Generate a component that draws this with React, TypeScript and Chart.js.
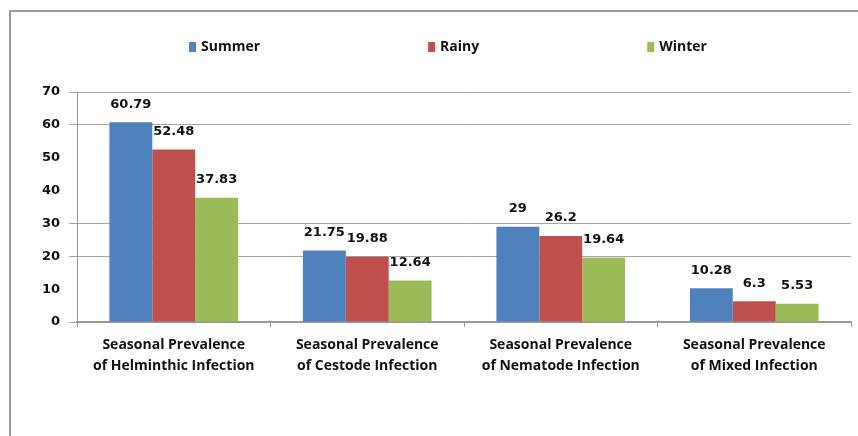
import React, { useEffect, useRef } from "react";
import { Chart, registerables } from "chart.js";

Chart.register(...registerables);

const categories: string[][] = [
  ["Seasonal Prevalence", "of Helminthic Infection"],
  ["Seasonal Prevalence", "of Cestode Infection"],
  ["Seasonal Prevalence", "of Nematode Infection"],
  ["Seasonal Prevalence", "of Mixed Infection"],
];
const seriesNames = ["Summer", "Rainy", "Winter"];
const summer = [60.79, 21.75, 29, 10.28];
const rainy = [52.48, 19.88, 26.2, 6.3];
const winter = [37.83, 12.64, 19.64, 5.53];
const seriesColors = ["#4F81BD", "#C0504D", "#9BBB59"];
const yMin = 0;
const yMax = 70;
const yStep = 10;
const visibleGridValues = [0, 20, 30, 60, 70];

const numFont = "bold 13px 'DejaVu Sans'";

const valueLabels = {
  id: "valueLabels",
  afterDatasetsDraw(chart: any) {
    const ctx = chart.ctx;
    ctx.save();
    ctx.font = numFont;
    ctx.fillStyle = "#111";
    ctx.textAlign = "center";
    ctx.textBaseline = "middle";
    chart.data.datasets.forEach((ds: any, i: number) => {
      const meta = chart.getDatasetMeta(i);
      meta.data.forEach((bar: any, j: number) => {
        ctx.fillText(String(ds.data[j]), bar.x, bar.y - 18);
      });
    });
    ctx.restore();
  },
};

const customLegend = {
  id: "customLegend",
  afterDraw(chart: any) {
    const ctx = chart.ctx;
    ctx.save();
    ctx.font = "bold 14px 'Open Sans'";
    ctx.textBaseline = "middle";
    const boxW = 7;
    const boxH = 10;
    const textGap = 5;
    const itemGap = 168;
    const widths = chart.data.datasets.map(
      (ds: any) => boxW + textGap + ctx.measureText(ds.label).width
    );
    const total =
      widths.reduce((a: number, b: number) => a + b, 0) +
      itemGap * (widths.length - 1);
    let x = 448 - total / 2;
    const y = 47;
    chart.data.datasets.forEach((ds: any, i: number) => {
      ctx.fillStyle = ds.backgroundColor;
      ctx.fillRect(x, y - boxH / 2, boxW, boxH);
      ctx.fillStyle = "#111";
      ctx.textAlign = "left";
      ctx.fillText(ds.label, x + boxW + textGap, y);
      x += widths[i] + itemGap;
    });
    ctx.restore();
  },
};

export default function App() {
  const canvasRef = useRef<HTMLCanvasElement | null>(null);

  useEffect(() => {
    if (!canvasRef.current) return;
    const seriesValues = [summer, rainy, winter];
    const chart = new Chart(canvasRef.current, {
      type: "bar",
      data: {
        labels: categories,
        datasets: seriesNames.map((name, i) => ({
          label: name,
          data: seriesValues[i],
          backgroundColor: seriesColors[i],
          borderWidth: 0,
          categoryPercentage: 0.665,
          barPercentage: 1,
        })),
      },
      options: {
        animation: false,
        responsive: true,
        maintainAspectRatio: false,
        layout: { padding: { top: 92, right: 7, left: 0, bottom: 0 } },
        plugins: {
          legend: { display: false },
          tooltip: { enabled: false },
        },
        scales: {
          x: {
            grid: {
              drawOnChartArea: false,
              offset: true,
              tickLength: 5,
              color: "#999",
            },
            border: { display: true, color: "#999", width: 2 },
            ticks: {
              font: {
                family: "'Open Sans'",
                weight: "bold",
                size: 14,
                lineHeight: 1.5,
              },
              color: "#111",
              padding: 8,
              maxRotation: 0,
              autoSkip: false,
            },
            afterFit: (s: any) => {
              s.height = 114;
            },
          },
          y: {
            min: yMin,
            max: yMax,
            ticks: {
              stepSize: yStep,
              font: { family: "'DejaVu Sans'", weight: "bold", size: 13 },
              color: "#111",
              padding: 9,
            },
            grid: {
              tickLength: 8,
              color: (c: any) =>
                c.tick && visibleGridValues.includes(c.tick.value)
                  ? "#a6a6a6"
                  : "rgba(0,0,0,0)",
            },
            border: { display: true, color: "#999", width: 1 },
            afterFit: (s: any) => {
              s.width = 77;
            },
          },
        },
      },
      plugins: [valueLabels, customLegend],
    });
    return () => chart.destroy();
  }, []);

  return (
    <>
      <div
        style={{
          position: "fixed",
          left: 9,
          top: 10,
          right: -20,
          bottom: -20,
          borderTop: "2px solid #9a9a9a",
          borderLeft: "2px solid #9a9a9a",
        }}
      />
      <div
        style={{
          position: "fixed",
          left: 0,
          top: 0,
          width: 858,
          height: 436,
        }}
      >
        <canvas ref={canvasRef} />
      </div>
    </>
  );
}
